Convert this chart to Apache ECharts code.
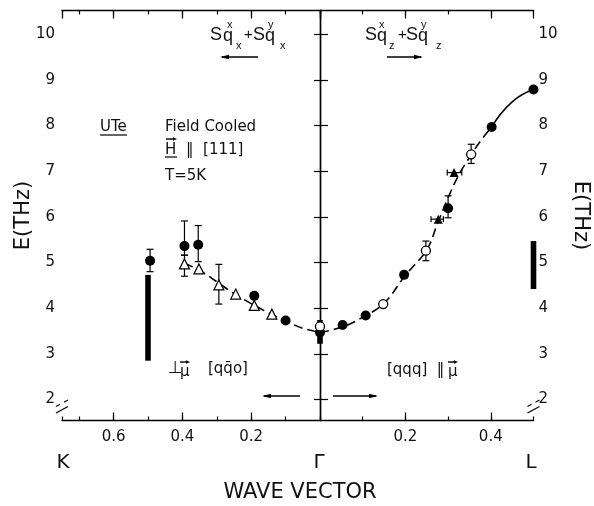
<!DOCTYPE html>
<html>
<head>
<meta charset="utf-8">
<script src="https://cdn.jsdelivr.net/npm/echarts@6/dist/echarts.min.js"></script>
<style>
html, body { margin: 0; padding: 0; background: #fff; }
#main { width: 594px; height: 506px; }
</style>
</head>
<body>
<div id="main"></div>
<script>
var FONT = 'DejaVu Sans';
var INK = '#000';

// Gamma -> K side (left panel), q counted from Gamma
var kFilled = [[0.494, 5.04], [0.394, 5.36], [0.354, 5.39], [0.191, 4.27], [0.100, 3.73]];
var kOpenTri = [[0.394, 4.97], [0.352, 4.86], [0.294, 4.51], [0.245, 4.31], [0.191, 4.06], [0.140, 3.87]];
var kErr = [[0.494, 4.80, 5.29], [0.394, 5.16, 5.91], [0.394, 4.70, 5.16], [0.354, 5.02, 5.81], [0.294, 4.09, 4.96]];
var kBand = [[0.5, 2.85, 4.73]];
var kCurve = [[0.394, 4.98], [0.35, 4.83], [0.3, 4.58], [0.25, 4.32], [0.2, 4.10], [0.15, 3.90], [0.1, 3.72], [0.05, 3.56], [0, 3.47]];

// Gamma -> L side (right panel)
var lFilled = [[0, 3.47], [0.053, 3.63], [0.107, 3.84], [0.197, 4.73], [0.300, 6.19], [0.402, 7.97], [0.5, 8.79]];
var lOpen = [[0, 3.60], [0.148, 4.09], [0.248, 5.26], [0.354, 7.37]];
var lFilledTri = [[0.277, 5.95], [0.314, 6.97]];
var lErr = [[0.248, 5.04, 5.47], [0.300, 5.98, 6.46], [0.354, 7.17, 7.59]];
var lErrH = [[5.95, 0.260, 0.289], [6.97, 0.298, 0.332]];
var lBand = [[0.5, 4.42, 5.47], [0, 3.22, 3.74]];
var lCurve = [[0, 3.47], [0.05, 3.58], [0.1, 3.80], [0.15, 4.11], [0.2, 4.72], [0.25, 5.28], [0.275, 5.85], [0.3, 6.42], [0.325, 6.92], [0.35, 7.30], [0.375, 7.65], [0.402, 7.97]];
var lCurveEnd = [[0.402, 7.97], [0.45, 8.52], [0.5, 8.79]];

var yMin = 1.54, yMax = 10.52;

function xAxisPair(grid, max, inverse, pos, major) {
    return {
        type: 'value', gridIndex: grid, min: 0, max: max, inverse: inverse, position: pos,
        interval: major ? 0.2 : 0.1,
        axisLine: { show: major, lineStyle: { color: INK, width: 1.3 } },
        axisTick: { show: true, inside: true, length: major ? 8 : 4, lineStyle: { color: INK, width: 1.2 } },
        axisLabel: {
            show: major && pos == 'bottom', margin: 9, showMinLabel: false, showMaxLabel: false,
            color: '#111', fontFamily: FONT, fontSize: 15,
            formatter: function (v) { return v.toFixed(1); }
        },
        splitLine: { show: false }
    };
}

function yAxisOf(grid, pos, tickLen, margin, nameRot, gap) {
    return {
        type: 'value', gridIndex: grid, position: pos, min: yMin, max: yMax,
        splitNumber: 9, minInterval: 1, maxInterval: 1,
        axisLine: { show: true, lineStyle: { color: INK, width: 1.3 } },
        axisTick: { show: true, inside: true, length: tickLen, lineStyle: { color: INK, width: 1.2 } },
        axisLabel: { margin: margin, showMinLabel: false, showMaxLabel: false, color: '#111', fontFamily: FONT, fontSize: 15 },
        splitLine: { show: false },
        name: 'E(THz)', nameLocation: 'middle', nameGap: gap, nameRotate: nameRot, nameMoveOverlap: false,
        nameTextStyle: { color: '#111', fontFamily: FONT, fontSize: 21 }
    };
}

function renderBand(params, api) {
    var lo = api.coord([api.value(0), api.value(1)]);
    var hi = api.coord([api.value(0), api.value(2)]);
    return { type: 'rect', shape: { x: lo[0] - 2.8, y: hi[1], width: 5.6, height: lo[1] - hi[1] }, style: { fill: INK } };
}

function renderErr(params, api) {
    var lo = api.coord([api.value(0), api.value(1)]);
    var hi = api.coord([api.value(0), api.value(2)]);
    var st = { stroke: INK, lineWidth: 1.2 };
    return {
        type: 'group', children: [
            { type: 'line', shape: { x1: lo[0], y1: lo[1], x2: hi[0], y2: hi[1] }, style: st },
            { type: 'line', shape: { x1: lo[0] - 3.5, y1: lo[1], x2: lo[0] + 3.5, y2: lo[1] }, style: st },
            { type: 'line', shape: { x1: hi[0] - 3.5, y1: hi[1], x2: hi[0] + 3.5, y2: hi[1] }, style: st }
        ]
    };
}

function renderErrH(params, api) {
    var a = api.coord([api.value(1), api.value(0)]);
    var b = api.coord([api.value(2), api.value(0)]);
    var st = { stroke: INK, lineWidth: 1.2 };
    return {
        type: 'group', children: [
            { type: 'line', shape: { x1: a[0], y1: a[1], x2: b[0], y2: b[1] }, style: st },
            { type: 'line', shape: { x1: a[0], y1: a[1] - 3, x2: a[0], y2: a[1] + 3 }, style: st },
            { type: 'line', shape: { x1: b[0], y1: b[1] - 3, x2: b[0], y2: b[1] + 3 }, style: st }
        ]
    };
}

function txt(s, x, y, size, align, family) {
    return {
        type: 'text', x: x, y: y, z: 50,
        style: { text: s, fontFamily: family || FONT, fontSize: size, fill: '#111', align: align || 'left', verticalAlign: 'middle' }
    };
}
function seg(x1, y1, x2, y2, w) {
    return { type: 'line', z: 50, shape: { x1: x1, y1: y1, x2: x2, y2: y2 }, style: { stroke: INK, lineWidth: w || 1.3 } };
}
function arrow(x1, x2, y, hl, hw) {
    hl = hl || 9; hw = hw || 2.3;
    var d = x2 > x1 ? -1 : 1;
    return [seg(x1, y, x2 + d * 2, y, 1.4),
        { type: 'polygon', z: 50, shape: { points: [[x2, y], [x2 + d * hl, y - hw], [x2 + d * hl, y + hw]] }, style: { fill: INK } }];
}
function brk(x, y) {
    return [
        { type: 'rect', z: 60, shape: { x: x - 2, y: y - 3, width: 4, height: 6.5 }, style: { fill: '#fff' } },
        seg(x - 6, y + 2.5, x + 6, y - 4, 1.2),
        seg(x - 6, y + 9, x + 6, y + 2.5, 1.2)
    ];
}

// S^x_q + S^y_q labels
function sq(x0, sub1, sup1, sup2, sub2, xs) {
    var F = 'Liberation Sans';
    return [
        txt('S', x0, 35, 18, 'left', F), txt('q', x0 + xs[0], 36, 18, 'left', F),
        txt(sup1, x0 + xs[1], 25, 11, 'left', F), txt(sub1, x0 + xs[2], 46, 11, 'left', F),
        txt('+', x0 + xs[3], 35, 15, 'left', F),
        txt('S', x0 + xs[4], 35, 18, 'left', F), txt('q', x0 + xs[5], 36, 18, 'left', F),
        txt(sup2, x0 + xs[6], 25, 11, 'left', F), txt(sub2, x0 + xs[7], 46, 11, 'left', F)
    ];
}

var graphics = []
    .concat(sq(210, 'x', 'x', 'y', 'x', [13, 17, 26, 34, 43, 55, 58, 70]))
    .concat(sq(365, 'z', 'x', 'y', 'z', [12, 14, 24, 33, 41, 53, 56, 71]))
    .concat(arrow(258, 220, 57)).concat(arrow(387, 423, 57))
    .concat(arrow(300, 262, 396)).concat(arrow(333, 378, 396))
    .concat([
        txt('UTe', 100, 127, 15), seg(100, 135, 127, 135, 1.2),
        txt('Field Cooled', 165, 127, 15),
        txt('H', 165, 150, 15), seg(165, 157, 177, 157, 1.2),
        txt('\u2016  [111]', 186, 150, 15),
        txt('T=5K', 165, 176, 15),
        txt('\u22a5', 168, 369, 17), txt('\u03bc', 180, 372, 15),
        txt('[qq\u0304o]', 208, 369, 15),
        txt('[qqq]  \u2016', 387, 370, 15), txt('\u03bc', 448, 372, 15),
        txt('K', 63, 463, 20, 'center'), txt('\u0393', 319, 463, 20, 'center'), txt('L', 531, 463, 20, 'center'),
        txt('WAVE VECTOR', 300, 493, 21, 'center')
    ])
    .concat(arrow(166, 177, 139, 4, 1.8))
    .concat(arrow(180, 190, 362, 4, 1.8))
    .concat(arrow(448, 458, 362, 4, 1.8))
    .concat(brk(62, 404)).concat(brk(533.5, 404));

var chart = echarts.init(document.getElementById('main'), null, { renderer: 'canvas' });
var option = {
    backgroundColor: '#fff',
    animation: false,
    grid: [
        { left: 62, top: 10.5, width: 258, height: 410 },
        { left: 320, top: 10.5, width: 213.5, height: 410 }
    ],
    xAxis: [
        xAxisPair(0, 0.75, true, 'bottom', true),
        xAxisPair(0, 0.75, true, 'bottom', false),
        xAxisPair(0, 0.75, true, 'top', true),
        xAxisPair(0, 0.75, true, 'top', false),
        xAxisPair(1, 0.5, false, 'bottom', true),
        xAxisPair(1, 0.5, false, 'bottom', false),
        xAxisPair(1, 0.5, false, 'top', true),
        xAxisPair(1, 0.5, false, 'top', false)
    ],
    yAxis: [
        yAxisOf(0, 'left', 8, 7, 90, 28),
        yAxisOf(1, 'right', 6, 5, -90, 36),
        {
            type: 'value', gridIndex: 1, position: 'left', min: yMin, max: yMax,
            axisLine: { show: true, lineStyle: { color: INK, width: 1.2 } },
            axisTick: { show: false }, axisLabel: { show: false }, splitLine: { show: false }
        }
    ],
    graphic: graphics,
    series: [
        {
            type: 'line', xAxisIndex: 0, yAxisIndex: 0, data: kCurve, smooth: 0.4, symbol: 'none', z: 1,
            lineStyle: { color: INK, width: 1.6, type: [9, 5], opacity: 1 }
        },
        {
            type: 'line', xAxisIndex: 4, yAxisIndex: 1, data: lCurve, smooth: 0.4, symbol: 'none', z: 1,
            lineStyle: { color: INK, width: 1.6, type: [9, 5], opacity: 1 }
        },
        {
            type: 'line', xAxisIndex: 4, yAxisIndex: 1, data: lCurveEnd, smooth: 0.5, symbol: 'none', z: 1,
            lineStyle: { color: INK, width: 1.6, opacity: 1 }
        },
        { type: 'custom', xAxisIndex: 0, yAxisIndex: 0, data: kBand, renderItem: renderBand, encode: { x: 0, y: [1, 2] }, z: 2 },
        { type: 'custom', xAxisIndex: 4, yAxisIndex: 1, data: lBand, renderItem: renderBand, encode: { x: 0, y: [1, 2] }, z: 2 },
        { type: 'custom', xAxisIndex: 0, yAxisIndex: 0, data: kErr, renderItem: renderErr, encode: { x: 0, y: [1, 2] }, z: 3 },
        { type: 'custom', xAxisIndex: 4, yAxisIndex: 1, data: lErr, renderItem: renderErr, encode: { x: 0, y: [1, 2] }, z: 3 },
        { type: 'custom', xAxisIndex: 4, yAxisIndex: 1, data: lErrH, renderItem: renderErrH, encode: { x: [1, 2], y: 0 }, z: 3 },
        {
            type: 'scatter', xAxisIndex: 0, yAxisIndex: 0, data: kOpenTri, symbol: 'triangle', symbolSize: 10, clip: false, z: 4,
            itemStyle: { color: '#fff', borderColor: INK, borderWidth: 1.2, opacity: 1 }
        },
        {
            type: 'scatter', xAxisIndex: 0, yAxisIndex: 0, data: kFilled, symbol: 'circle', symbolSize: 10, clip: false, z: 5,
            itemStyle: { color: INK, opacity: 1 }
        },
        {
            type: 'scatter', xAxisIndex: 4, yAxisIndex: 1, data: lFilled, symbol: 'circle', symbolSize: 10, clip: false, z: 5,
            itemStyle: { color: INK, opacity: 1 }
        },
        {
            type: 'scatter', xAxisIndex: 4, yAxisIndex: 1, data: lOpen, symbol: 'circle', symbolSize: 9, clip: false, z: 6,
            itemStyle: { color: '#fff', borderColor: INK, borderWidth: 1.3, opacity: 1 }
        },
        {
            type: 'scatter', xAxisIndex: 4, yAxisIndex: 1, data: lFilledTri, symbol: 'triangle', symbolSize: 9, clip: false, z: 5,
            itemStyle: { color: INK, opacity: 1 }
        }
    ]
};
chart.setOption(option);
</script>
</body>
</html>
